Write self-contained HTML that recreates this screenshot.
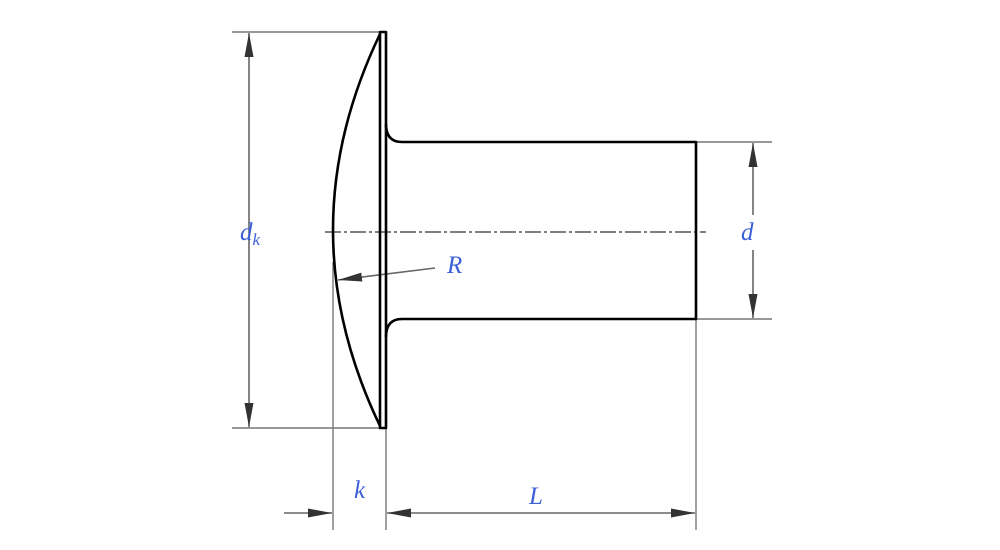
<!DOCTYPE html>
<html><head><style>body{margin:0;background:#fff}svg{display:block}</style></head><body>
<svg width="1000" height="550" viewBox="0 0 1000 550" xmlns="http://www.w3.org/2000/svg">
<defs>
<marker id="a" markerWidth="24" markerHeight="10" refX="24" refY="5" orient="auto" markerUnits="userSpaceOnUse"><path d="M0,0.5 L24,5 L0,9.5 Z" fill="#333"/></marker>
</defs>
<g stroke="#777" stroke-width="1.4" fill="none">
<line x1="232" y1="32" x2="381" y2="32"/>
<line x1="232" y1="428" x2="381" y2="428"/>
<line x1="696" y1="142" x2="772" y2="142"/>
<line x1="696" y1="319" x2="772" y2="319"/>
<line x1="333" y1="262" x2="333" y2="530"/>
<line x1="386" y1="428" x2="386" y2="530"/>
<line x1="696" y1="319" x2="696" y2="530"/>
</g>
<g stroke="#666" stroke-width="1.6" fill="none">
<line x1="249" y1="230" x2="249" y2="33" marker-end="url(#a)"/>
<line x1="249" y1="230" x2="249" y2="427" marker-end="url(#a)"/>
<line x1="753" y1="215" x2="753" y2="143" marker-end="url(#a)"/>
<line x1="753" y1="250" x2="753" y2="318" marker-end="url(#a)"/>
<line x1="284" y1="513" x2="332" y2="513" marker-end="url(#a)"/>
<line x1="540" y1="513" x2="387" y2="513" marker-end="url(#a)"/>
<line x1="540" y1="513" x2="695" y2="513" marker-end="url(#a)"/>
<line x1="435" y1="268" x2="338" y2="280" marker-end="url(#a)"/>
</g>
<line x1="325" y1="232" x2="706" y2="232" stroke="#333" stroke-width="1.2" stroke-dasharray="16,3,3,3"/>
<g stroke="#000" stroke-width="2.6" fill="none" stroke-linejoin="round">
<rect x="380" y="32" width="6" height="396"/>
<path d="M380,34 Q286,230 380,426"/>
<path d="M386,124 Q386,142 402,142 L696,142 L696,319 L402,319 Q386,319 386,337"/>
</g>
<g fill="#3b5fd8" font-family="'Liberation Serif',serif" font-style="italic" font-size="25">
<text x="240" y="240">d<tspan font-size="17" dy="5">k</tspan></text>
<text x="741" y="240">d</text>
<text x="447" y="273">R</text>
<text x="354" y="498">k</text>
<text x="529" y="504">L</text>
</g>
</svg>
</body></html>
